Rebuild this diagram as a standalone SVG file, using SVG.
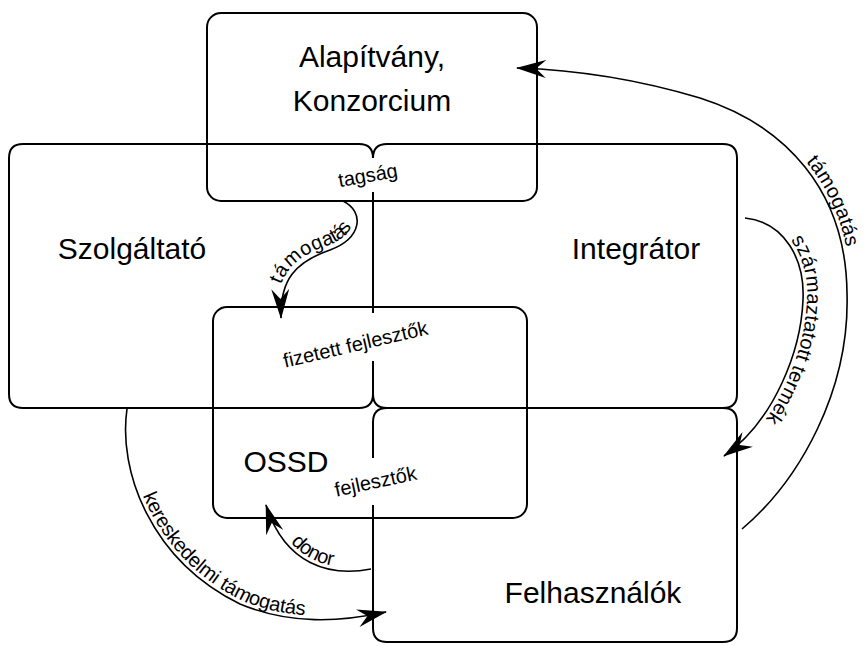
<svg xmlns="http://www.w3.org/2000/svg" width="865" height="646" viewBox="0 0 865 646">
<style>
.box{fill:none;stroke:#000;stroke-width:2}
.edge{fill:none;stroke:#000;stroke-width:1.6}
.big{font-family:"Liberation Sans",Arial,sans-serif;font-size:30px;fill:#000;text-anchor:middle}
.lbl{font-family:"Liberation Sans",Arial,sans-serif;font-size:20px;fill:#000}
.mid{text-anchor:middle}
</style>
<defs>
<marker id="arr" viewBox="0 0 30 18" refX="29" refY="9" markerWidth="30" markerHeight="18" markerUnits="userSpaceOnUse" orient="auto">
<path d="M0,0 L30,9 L0,18 L10,9 Z" fill="#000"/>
</marker>
<path id="p1" d="M281,318 C280,280 295,262 330,250 C362,238 365,212 343,201"/>
<path id="p2" d="M266,505 C285,565 330,577 371,569"/>
<path id="p3" d="M127,409 C118,470 150,560 240,604 C290,625 340,622 386,612"/>
<path id="p4" d="M745,218 C785,222 805,260 803,300 C801,350 775,420 724,456"/>
<path id="p5" d="M517,68 C580,70 640,80 700,98 C785,125 846,190 847,293 C850,390 800,480 742,529"/>
</defs>
<g id="alapitvany">
<rect class="box" x="207" y="13" width="330" height="188" rx="14"/>
<text class="big" x="372" y="67">Alapítvány,</text>
<text class="big" x="372" y="111">Konzorcium</text>
</g>
<g id="szolgaltato">
<path class="box" d="M373,158 Q373,144 359,144 L23,144 Q9,144 9,158 L9,394 Q9,408 23,408 L359,408 Q373,408 373,394"/>
<text class="big" x="132" y="259">Szolgáltató</text>
</g>
<g id="integrator">
<path class="box" d="M373,158 Q373,144 387,144 L723,144 Q737,144 737,158 L737,394 Q737,408 723,408 L387,408 Q373,408 373,394"/>
<text class="big" x="636" y="259">Integrátor</text>
</g>
<g id="ossd">
<rect class="box" x="213" y="307" width="314" height="211" rx="14"/>
<text class="big" x="286" y="472">OSSD</text>
</g>
<g id="felhasznalok">
<path class="box" d="M387,408 Q373,408 373,422 L373,458 M373,505 L373,628 Q373,642 387,642 L723,642 Q737,642 737,628 L737,422 Q737,408 723,408"/>
<text class="big" x="593" y="603">Felhasználók</text>
</g>
<g id="shared-edges">
<path class="box" d="M373,192 L373,313 M373,361 L373,394"/>
<text class="lbl mid" transform="translate(369,182) rotate(-10)">tagság</text>
<text class="lbl mid" transform="translate(357,351) rotate(-13)">fizetett fejlesztők</text>
<text class="lbl mid" transform="translate(377,488) rotate(-12)">fejlesztők</text>
</g>
<g id="connectors">
<path class="edge" d="M343,201 C365,212 362,238 330,250 C295,262 280,280 281,318" marker-end="url(#arr)"/>
<path class="edge" d="M371,569 C330,577 285,565 266,505" marker-end="url(#arr)"/>
<path class="edge" d="M127,409 C118,470 150,560 240,604 C290,625 340,622 386,612" marker-end="url(#arr)"/>
<path class="edge" d="M745,218 C785,222 805,260 803,300 C801,350 775,420 724,456" marker-end="url(#arr)"/>
<path class="edge" d="M742,529 C800,480 850,390 847,293 C846,190 785,125 700,98 C640,80 580,70 517,68" marker-end="url(#arr)"/>
<text class="lbl" dy="-5"><textPath href="#p1" startOffset="32">támogatás</textPath></text>
<text class="lbl" dy="-4"><textPath href="#p2" startOffset="46">donor</textPath></text>
<text class="lbl" dy="-4"><textPath href="#p3" startOffset="90">kereskedelmi támogatás</textPath></text>
<text class="lbl" dy="-4"><textPath href="#p4" startOffset="50">származtatott termék</textPath></text>
<text class="lbl" dy="-4"><textPath href="#p5" startOffset="310">támogatás</textPath></text>
</g>
</svg>
